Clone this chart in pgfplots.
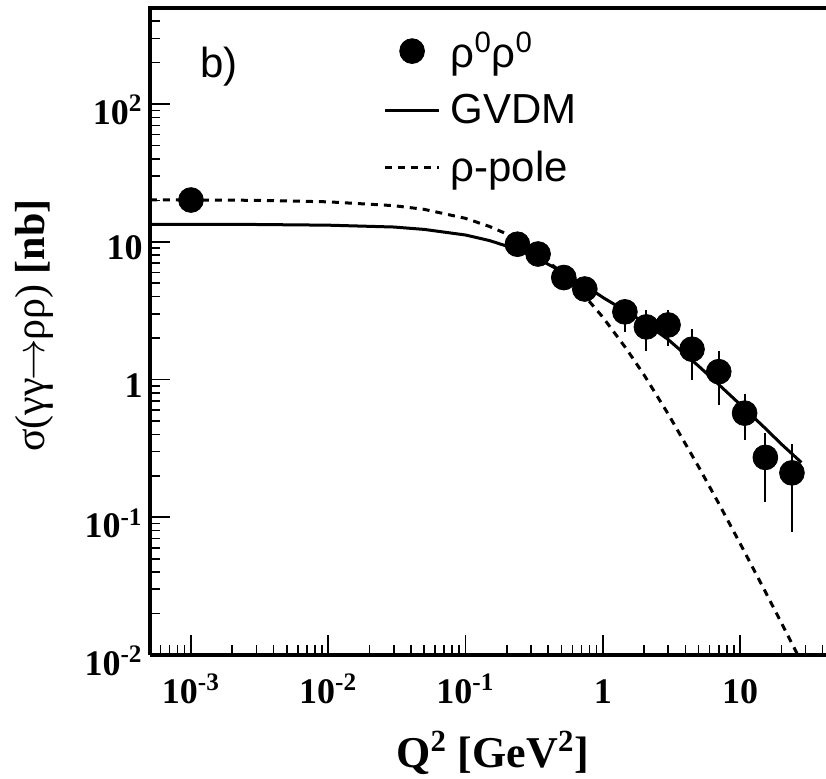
\documentclass[border=0pt]{standalone}
\usepackage{fontspec}
\setmainfont{Liberation Serif}
\newfontfamily\hv{Liberation Sans}
\usepackage{graphicx}
\usepackage{pgfplots}
\usepackage{pgfplotstable}
\pgfplotsset{compat=1.18}

\pgfplotstableread{
x y ep em
0.001 20.1 0 0
0.239 9.6 0 0
0.338 8.15 0 0
0.52 5.5 0 0
0.74 4.54 0 0
1.45 3.1 0.63 0.9
2.08 2.41 0.79 0.81
2.99 2.49 0.71 0.75
4.47 1.66 0.66 0.67
7.0 1.14 0.48 0.49
10.8 0.57 0.21 0.207
15.3 0.272 0.136 0.144
23.9 0.21 0.13 0.132
}\datatab

\pgfplotstableread{
x y
5.03e-4 13.4
1e-3 13.4
3e-3 13.35
1e-2 13.2
0.03 12.8
0.05 12.3
0.1 11.2
0.15 10.2
0.2 9.3
0.3 8.0
0.5 6.1
0.7 5.0
1 3.95
1.5 3.1
2 2.6
3 1.95
5 1.25
7 0.92
10 0.66
15 0.45
20 0.34
28 0.25
}\gvdm

\pgfplotstableread{
x y
5.03e-4 20.17
1e-3 20.13
3e-3 20.0
1e-2 19.5
0.03 18.3
0.05 17.2
0.1 14.8
0.15 12.9
0.2 11.4
0.3 8.98
0.5 6.01
0.7 4.30
1 2.84
1.5 1.65
2 1.08
3 0.561
5 0.232
7 0.126
10 0.0647
15 0.0299
20 0.01714
25 0.0111
27 0.00955
}\rhopole

\begin{document}
\begin{tikzpicture}
\begin{axis}[
  xmode=log, ymode=log,
  scale only axis, width=338pt, height=323.5pt,
  xmin=5.03e-4, xmax=42.3, ymin=0.01, ymax=498,
  axis x line=bottom, axis y line=left,
  axis line style={-, line width=2pt},
  tick align=inside,
  xtick={1e-3,1e-2,1e-1,1,10},
  xticklabels={10\textsuperscript{-3},10\textsuperscript{-2},10\textsuperscript{-1},1,10},
  minor xtick={6e-4,7e-4,8e-4,9e-4,2e-3,3e-3,4e-3,5e-3,6e-3,7e-3,8e-3,9e-3,2e-2,3e-2,4e-2,5e-2,6e-2,7e-2,8e-2,9e-2,0.2,0.3,0.4,0.5,0.6,0.7,0.8,0.9,2,3,4,5,6,7,8,9,20,30,40},
  ytick={0.01,0.1,1,10,100},
  yticklabels={10\textsuperscript{-2},10\textsuperscript{-1},1,10,10\textsuperscript{2}},
  minor ytick={0.02,0.03,0.04,0.05,0.06,0.07,0.08,0.09,0.2,0.3,0.4,0.5,0.6,0.7,0.8,0.9,2,3,4,5,6,7,8,9,20,30,40,50,60,70,80,90,200,300,400},
  tick style={line width=0.8pt, black},
  major tick length=10pt, minor tick length=5pt,
  tick label style={font=\bfseries\fontsize{18}{18}\selectfont},
  xticklabel style={anchor=base, yshift=-24pt, inner sep=0pt},
  yticklabel style={anchor=east, inner sep=0pt, xshift=-3.5pt, yshift=-3pt},
  xlabel={\bfseries Q\textsuperscript{2} [GeV\textsuperscript{2}]},
  xlabel style={at={([yshift=-56pt]rel axis cs:0.507,0)}, anchor=base, font=\fontsize{22}{22}\selectfont, inner sep=0pt},
  ylabel={σ(γγ\kern-1pt$\rightarrow$\kern-1ptρρ) \textbf{[nb]}},
  ylabel style={at={([xshift=-58pt]rel axis cs:0,0.509)}, anchor=center, rotate=0, font=\fontsize{21}{21}\selectfont, inner sep=0pt},
  legend style={draw=none, fill=none, at={(0.345,0.97)}, anchor=north west, font=\hv\fontsize{21}{21}\selectfont, row sep=8pt, inner sep=0pt},
  legend cell align=left,
  reverse legend,
  legend image code/.code={\draw[mark repeat=2,mark phase=2,#1] plot coordinates {(0pt,0pt) (13.5pt,0pt) (27pt,0pt)};\path (30pt,0pt);},
  clip=true,
]
\addplot[black, line width=1.5pt, dash pattern=on 3.5pt off 3pt] table[x=x,y=y]{\rhopole};
\addlegendentry{ρ-pole}
\addplot[black, line width=1.5pt] table[x=x,y=y]{\gvdm};
\addlegendentry{GVDM}
\addplot[only marks, black, mark=*, mark size=6.2pt,
  error bars/.cd, y dir=both, y explicit, error mark=none,
  error bar style={line width=1pt}]
  table[x=x,y=y,y error plus=ep,y error minus=em]{\datatab};
\addlegendentry{ρ\textsuperscript{0}ρ\textsuperscript{0}}
\node[anchor=base west, font=\hv\fontsize{21}{21}\selectfont, inner sep=0pt] at (rel axis cs:0.074,0.892) {b)};
\coordinate (bl) at (rel axis cs:0,0);
\coordinate (tl) at (rel axis cs:0,1);
\coordinate (tr) at (rel axis cs:1,1);
\end{axis}
\draw[line width=2pt, line cap=rect] (tl) -- (tr);
\pgfresetboundingbox
\path[use as bounding box] ([xshift=-75pt,yshift=-61.5pt]bl) rectangle ([yshift=4pt]tr);
\end{tikzpicture}
\end{document}
